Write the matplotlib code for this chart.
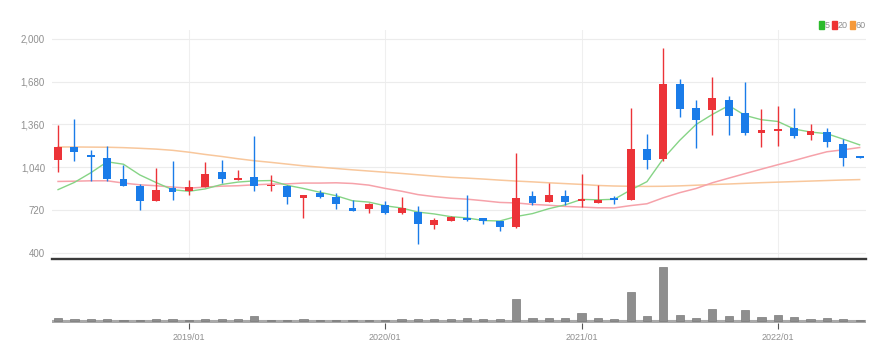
import numpy as np
import pandas as pd
import matplotlib
matplotlib.use("Agg")
import matplotlib.pyplot as plt
from matplotlib.patches import Rectangle
from matplotlib import font_manager

# ---------------- data ----------------
months = ["2018/05", "2018/06", "2018/07", "2018/08", "2018/09", "2018/10", "2018/11", "2018/12",
          "2019/01", "2019/02", "2019/03", "2019/04", "2019/05", "2019/06", "2019/07", "2019/08",
          "2019/09", "2019/10", "2019/11", "2019/12",
          "2020/01", "2020/02", "2020/03", "2020/04", "2020/05", "2020/06", "2020/07", "2020/08",
          "2020/09", "2020/10", "2020/11", "2020/12",
          "2021/01", "2021/02", "2021/03", "2021/04", "2021/05", "2021/06", "2021/07", "2021/08",
          "2021/09", "2021/10", "2021/11", "2021/12",
          "2022/01", "2022/02", "2022/03", "2022/04", "2022/05", "2022/06"]

open_ = [1096, 1192, 1134, 1109, 951, 901, 788, 883,
         863, 891, 1004, 946, 966, 896, 901, 813, 845, 820, 737, 725,
         758, 695, 707, 607, 640, 663, 656, 638, 594, 824, 780, 824,
         790, 775, 812, 797, 1177, 1102, 1665, 1480, 1465, 1542, 1442, 1292,
         1307, 1330, 1277, 1302, 1210, 1122]
high = [1352, 1398, 1167, 1197, 1059, 916, 1034, 1089,
        946, 1079, 1096, 1016, 1272, 983, 909, 833, 871, 850, 795, 775,
        790, 815, 750, 657, 677, 829, 656, 638, 1147, 861, 923, 866,
        990, 905, 827, 1485, 1285, 1935, 1697, 1540, 1717, 1572, 1677, 1472,
        1497, 1485, 1365, 1335, 1247, 1125]
low = [1001, 1084, 938, 938, 896, 720, 788, 795,
       833, 891, 921, 946, 858, 858, 765, 657, 808, 725, 715, 695,
       690, 690, 464, 574, 640, 638, 613, 564, 584, 755, 780, 755,
       745, 775, 765, 797, 1027, 1085, 1417, 1180, 1280, 1277, 1277, 1192,
       1200, 1260, 1242, 1192, 1047, 1108]
close = [1189, 1152, 1117, 951, 901, 788, 866, 851,
         891, 991, 953, 956, 896, 903, 815, 833, 815, 765, 715, 765,
         695, 733, 612, 645, 665, 646, 636, 594, 812, 775, 829, 780,
         799, 795, 795, 1177, 1092, 1660, 1477, 1390, 1555, 1422, 1292, 1315,
         1325, 1272, 1310, 1230, 1110, 1112]
volume = [5, 3, 3, 3, 1, 1, 3, 3, 1, 3, 3, 3, 10, 1, 1, 3, 1, 1, 1, 1,
          1, 3, 3, 3, 3, 5, 3, 3, 41, 5, 5, 5, 15, 5, 3, 54, 10, 100, 11, 5,
          23, 10, 21, 8, 11, 8, 3, 5, 3, 1]

ma5_head = [872, 926, 998, 1080]
ma20_head = [933, 935, 938, 938, 921, 908, 901, 891, 883, 891, 898, 901, 908,
             913, 915, 921, 921, 923, 918]
ma60 = [1191, 1191, 1190, 1189, 1186, 1181, 1175, 1166, 1152, 1135, 1120, 1103,
        1088, 1076, 1063, 1050, 1040, 1030, 1020, 1011, 1002, 993, 983, 973,
        964, 958, 951, 943, 936, 930, 923, 917, 911, 903, 899, 897, 896, 897,
        900, 905, 910, 914, 919, 924, 928, 932, 936, 940, 944, 947]

ma_labels = ["5", "20", "60"]
ytick_vals = [400, 720, 1040, 1360, 1680, 2000]

# ---------------- derived ----------------
cs = pd.Series(close, dtype=float)
ma5 = cs.rolling(5).mean().to_numpy()
ma5[:len(ma5_head)] = ma5_head
ma20 = cs.rolling(20).mean().to_numpy()
ma20[:len(ma20_head)] = ma20_head

x = np.arange(len(months))
o = np.array(open_, float); c = np.array(close, float)
h = np.array(high, float); l = np.array(low, float)
up = c >= o

RED = "#ec3338"
BLUE = "#1a7ce9"
C5 = "#86d486"
C20 = "#f6a2aa"
C60 = "#f8c79c"

avail = {f.name for f in font_manager.fontManager.ttflist}
fam = ["Liberation Sans Narrow", "DejaVu Sans"] if "Liberation Sans Narrow" in avail else ["Liberation Sans", "DejaVu Sans"]
plt.rcParams["font.family"] = fam

W, H = 896, 361
fig = plt.figure(figsize=(W / 100, H / 100), dpi=100)
fig.patch.set_facecolor("white")

def fx(px):
    return px / W

def fy(py):
    return 1 - py / H

# ---------------- price panel ----------------
ax = fig.add_axes([fx(52), fy(259), fx(866) - fx(52), fy(30) - fy(259)])
ax.set_xlim(-0.37, 49.39)
ax.set_ylim(353, 2066)
for s in ["top", "right", "left"]:
    ax.spines[s].set_visible(False)
ax.spines["bottom"].set_color("#3a3a3a")
ax.spines["bottom"].set_linewidth(1.7)
ax.set_yticks(ytick_vals)
ax.set_yticklabels([f"{v:,}" for v in ytick_vals])
ax.tick_params(axis="y", length=0, pad=5, labelsize=7, labelcolor="#8f8f8f")
year_idx = [i for i, m in enumerate(months) if m.endswith("/01")]
ax.set_xticks(year_idx)
ax.tick_params(axis="x", length=0, labelbottom=False)
ax.grid(True, axis="y", color="#ececec", linewidth=0.8)
ax.grid(True, axis="x", color="#efefef", linewidth=0.8)
ax.set_axisbelow(True)

ax.plot(x, ma60, color=C60, lw=1.1, zorder=2)
ax.plot(x, ma20, color=C20, lw=1.1, zorder=2)
ax.plot(x, ma5, color=C5, lw=1.0, zorder=2)

cols = np.where(up, RED, BLUE)
ax.vlines(x, l, h, colors=cols, linewidth=1.0, zorder=3)
body_bot = np.minimum(o, c)
body_h = np.maximum(np.abs(c - o), 12)
ax.bar(x, body_h, bottom=body_bot, width=0.48, color=cols, linewidth=0, zorder=4)

# legend
items = [(819, "#2dbb2d", ma_labels[0]), (832, "#ee3333", ma_labels[1]), (850, "#f5993a", ma_labels[2])]
for px, col, lab in items:
    fig.patches.append(Rectangle((fx(px), fy(29)), fx(4.5), fy(21) - fy(29),
                                 transform=fig.transFigure, color=col))
    fig.text(fx(px + 5.5), fy(25.2), lab, fontsize=6.5, color="#8f8f8f", va="center", ha="left")

# ---------------- volume panel ----------------
vax = fig.add_axes([fx(52), fy(323), fx(866) - fx(52), fy(262) - fy(323)])
vax.set_xlim(-0.37, 49.39)
vax.set_ylim(-3.7, 109)
for s in ["top", "right", "left", "bottom"]:
    vax.spines[s].set_visible(False)
vax.set_yticks([])
vax.axhline(0, color="#a9a9a9", lw=2.2, zorder=1)
vax.bar(x, volume, width=0.5, color="#8e8e8e", edgecolor="#7a7a7a", linewidth=0.5, zorder=2)
vax.set_xticks(year_idx)
vax.set_xticklabels([months[i] for i in year_idx])
vax.tick_params(axis="x", length=4, width=0.8, color="#555555", pad=3,
                labelsize=6.5, labelcolor="#8f8f8f")

fig.savefig("out.png", dpi=100, facecolor="white")
